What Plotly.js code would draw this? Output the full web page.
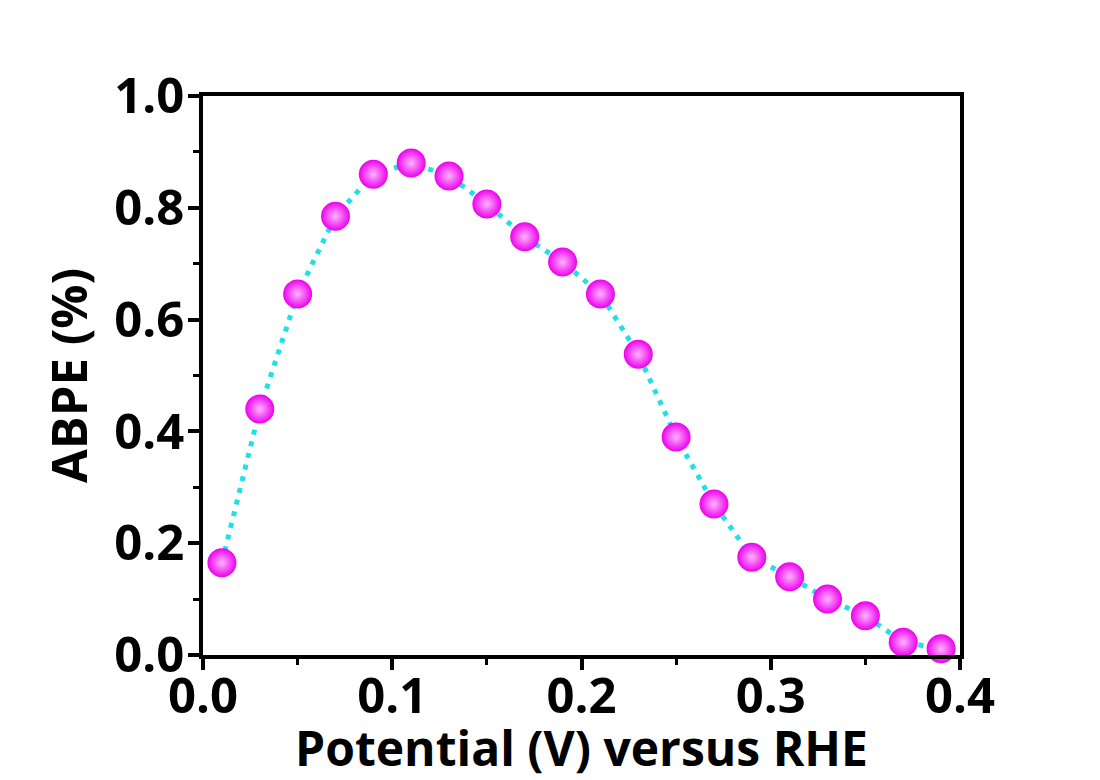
<!DOCTYPE html>
<html>
<head>
<meta charset="utf-8">
<script src="https://cdn.plot.ly/plotly-3.0.1.min.js"></script>
<style>html,body{margin:0;padding:0;background:#fff;}#chart{width:1100px;height:780px;}</style>
</head>
<body>
<div id="chart"></div>
<script>
const potential = [0.01,0.03,0.05,0.07,0.09,0.11,0.13,0.15,0.17,0.19,0.21,0.23,0.25,0.27,0.29,0.31,0.33,0.35,0.37,0.39];
const abpe = [0.165,0.44,0.646,0.785,0.86,0.88,0.857,0.807,0.748,0.703,0.646,0.538,0.39,0.27,0.175,0.14,0.10,0.07,0.023,0.011];
const xTitle = 'Potential (V) versus RHE';
const yTitle = 'ABPE (%)';

const fontFam = '"Open Sans", "Noto Sans", "DejaVu Sans", sans-serif';

const traces = [
  {
    x: potential, y: abpe, type: 'scatter', mode: 'lines',
    line: {color: '#1EE0E6', width: 5, dash: '5px,7px'},
    hoverinfo: 'skip', showlegend: false
  },
  {
    x: potential, y: abpe, type: 'scatter', mode: 'markers',
    marker: {size: 29, color: '#EC00EC', line: {width: 0},
             gradient: {type: 'radial', color: '#FFB4FF'}},
    showlegend: false, cliponaxis: false
  }
];

const axisCommon = {
  showline: true, linecolor: '#000', linewidth: 4, mirror: true,
  ticks: 'outside', ticklen: 11, tickwidth: 4, tickcolor: '#000',
  showgrid: false, zeroline: false,
  tickfont: {family: fontFam, size: 49, color: '#000', weight: 'bold'},
  tickformat: '.1f'
};

const layout = {
  width: 1100, height: 780,
  paper_bgcolor: '#fff', plot_bgcolor: '#fff',
  margin: {l: 203, r: 140, t: 96, b: 125},
  showlegend: false,
  xaxis: Object.assign({}, axisCommon, {
    range: [0, 0.4], dtick: 0.1, tick0: 0,
    ticklabelstandoff: -16,
    minor: {dtick: 0.05, ticks: 'outside', ticklen: 6, tickwidth: 3, tickcolor: '#000'},
    title: {text: xTitle, font: {family: fontFam, size: 48, color: '#000', weight: 'bold'}, standoff: 8}
  }),
  yaxis: Object.assign({}, axisCommon, {
    range: [0, 1.0], dtick: 0.2, tick0: 0,
    ticklabelstandoff: -6,
    minor: {dtick: 0.1, ticks: 'outside', ticklen: 6, tickwidth: 3, tickcolor: '#000'},
    title: {text: yTitle, font: {family: fontFam, size: 49, color: '#000', weight: 'bold'}, standoff: 12}
  })
};

Plotly.newPlot('chart', traces, layout, {displayModeBar: false, staticPlot: true});
</script>
</body>
</html>
